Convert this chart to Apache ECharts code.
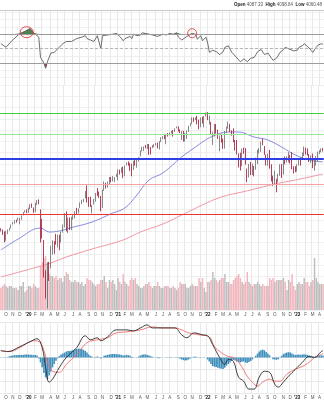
<!DOCTYPE html>
<html><head><meta charset="utf-8">
<script src="https://cdn.jsdelivr.net/npm/echarts@6/dist/echarts.min.js"></script>
<style>html,body{margin:0;padding:0;background:#fff}#chart{width:324px;height:400px}</style>
</head><body><div id="chart"></div><script>
// Weekly S&P 500 bars, Sep 2019 - Apr 2023: [open, close, low, high]
const ohlc = [
[3001,2992,2985,3022],[2994,2962,2943,3007],[2967,2952,2856,2983],[2945,2970,2874,2993],[2966,2986,2952,3008],
[2996,3023,2992,3027],[3032,3067,3021,3067],[3078,3093,3067,3097],[3081,3120,3077,3121],[3118,3110,3091,3127],
[3118,3141,3117,3154],[3144,3146,3070,3150],[3147,3169,3125,3183],[3183,3221,3183,3226],[3226,3240,3220,3248],
[3240,3235,3212,3259],[3218,3265,3214,3282],[3274,3330,3264,3330],[3321,3295,3281,3338],[3244,3226,3214,3285],
[3235,3328,3223,3347],[3318,3380,3316,3385],[3388,3338,3328,3393],[3258,2954,2855,3259],[2974,2972,2901,3137],
[2863,2711,2479,2883],[2509,2305,2280,2553],[2290,2541,2192,2637],[2498,2489,2447,2641],[2578,2790,2574,2818],
[2782,2875,2719,2879],[2846,2837,2727,2870],[2854,2831,2830,2955],[2815,2930,2798,2945],[2915,2864,2767,2945],
[2913,2955,2853,2981],[3005,3044,2970,3068],[3038,3194,3031,3211],[3199,3041,2984,3233],[2994,3098,2965,3155],
[3094,3009,3001,3155],[3018,3130,2999,3165],[3155,3185,3128,3186],[3205,3225,3142,3238],[3224,3216,3200,3280],
[3219,3271,3209,3272],[3289,3351,3280,3352],[3356,3373,3328,3387],[3380,3397,3354,3399],[3419,3508,3406,3509],
[3507,3427,3349,3588],[3371,3341,3293,3425],[3363,3319,3292,3429],[3285,3298,3209,3320],[3333,3348,3323,3398],
[3367,3477,3361,3482],[3500,3484,3441,3550],[3493,3465,3415,3502],[3441,3270,3234,3441],[3296,3510,3280,3529],
[3583,3585,3511,3646],[3600,3558,3543,3628],[3566,3638,3558,3645],[3641,3699,3594,3712],[3694,3663,3633,3712],
[3675,3709,3647,3726],[3693,3703,3636,3711],[3723,3756,3715,3760],[3764,3825,3663,3827],[3803,3768,3750,3824],
[3781,3841,3775,3859],[3856,3714,3694,3870],[3731,3887,3725,3887],[3892,3934,3890,3937],[3939,3907,3884,3951],
[3885,3811,3805,3928],[3843,3842,3723,3915],[3844,3943,3819,3960],[3942,3913,3885,3983],[3917,3975,3853,3978],
[3969,4020,3949,4020],[4034,4129,4034,4129],[4124,4185,4114,4191],[4179,4180,4118,4195],[4185,4181,4165,4219],
[4192,4233,4152,4238],[4228,4174,4057,4237],[4169,4156,4062,4187],[4168,4204,4168,4219],[4216,4230,4183,4234],
[4229,4247,4217,4255],[4248,4166,4164,4262],[4173,4281,4144,4287],[4284,4352,4272,4356],[4356,4370,4320,4372],
[4372,4327,4321,4393],[4296,4412,4234,4415],[4409,4395,4367,4429],[4406,4437,4385,4440],[4437,4468,4422,4468],
[4461,4442,4367,4480],[4450,4509,4450,4513],[4513,4535,4513,4546],[4535,4459,4456,4549],[4474,4433,4427,4492],
[4406,4455,4306,4466],[4442,4357,4279,4466],[4348,4391,4278,4429],[4385,4471,4323,4475],[4463,4545,4447,4559],
[4553,4605,4551,4608],[4610,4698,4595,4718],[4701,4683,4630,4714],[4689,4698,4663,4717],[4712,4595,4585,4744],
[4628,4538,4495,4672],[4548,4712,4532,4713],[4710,4620,4600,4731],[4588,4726,4532,4740],[4733,4766,4733,4808],
[4778,4677,4663,4818],[4655,4663,4582,4749],[4632,4398,4395,4632],[4357,4432,4222,4453],[4431,4501,4368,4595],
[4505,4419,4418,4590],[4412,4349,4327,4490],[4332,4385,4115,4386],[4364,4329,4261,4417],[4328,4204,4157,4329],
[4202,4463,4161,4465],[4462,4543,4424,4546],[4541,4546,4507,4637],[4547,4488,4450,4593],[4474,4392,4381,4475],
[4385,4272,4269,4513],[4255,4132,4129,4308],[4130,4123,4063,4307],[4081,4024,3859,4081],[4013,3901,3810,4091],
[3920,4158,3875,4158],[4151,4109,4074,4177],[4134,3901,3900,4169],[3838,3675,3637,3838],[3715,3912,3705,3913],
[3920,3825,3741,3945],[3819,3899,3743,3918],[3880,3863,3722,3880],[3883,3962,3820,4012],[3967,4130,3910,4140],
[4113,4145,4079,4167],[4155,4280,4107,4280],[4269,4228,4218,4325],[4195,4058,4057,4203],[4034,3924,3887,4062],
[3910,4067,3886,4076],[4084,3873,3838,4140],[3849,3693,3647,3907],[3682,3586,3584,3733],[3610,3640,3605,3806],
[3636,3583,3491,3685],[3638,3752,3634,3762],[3757,3901,3730,3905],[3881,3771,3698,3911],[3780,3993,3749,4001],
[3978,3965,3906,4029],[3956,4026,3933,4034],[4006,4072,3938,4101],[4053,3934,3918,4053],[3940,3852,3828,4101],
[3853,3845,3764,3876],[3843,3840,3784,3878],[3853,3895,3794,3907],[3910,3999,3887,4003],[3999,3973,3885,4015],
[3979,4071,3974,4095],[4071,4136,4037,4195],[4120,4090,4061,4176],[4100,4079,4047,4163],[4072,3970,3943,4072],
[3992,4046,3928,4049],[4055,3862,3847,4079],[3876,3917,3808,3976],[3917,3971,3885,4039],[3982,4109,3951,4110],
[4102,4105,4069,4133],[4110,4138,4099,4164],[4140,4133,4114,4170]
];

// Weekly volume, billions of shares
const volume = [
11,12,13,12,11,12,12,11,11,11,10,12,12,14,9,10,
12,12,11,13,12,11,11,
22,24,26,27,23,18,17,17,16,17,15,16,16,14,17,19,18,15,14,14,15,14,14,13,14,12,13,16,15,15,14,13,12,13,13,15,15,17,14,11,15,14,15,13,10,
16,14,13,18,14,13,12,15,16,15,16,13,12,11,11,12,13,13,14,12,11,12,12,14,12,11,11,12,12,12,11,11,12,11,10,11,14,13,13,13,11,11,12,13,12,12,12,16,14,16,11,9,
14,14,15,19,16,15,14,15,16,16,18,14,14,13,13,15,16,17,18,16,14,13,14,19,14,13,12,13,13,14,13,12,13,12,12,12,16,15,16,14,15,15,15,15,16,14,10,15,14,18,12,10,
13,14,13,13,16,14,14,12,14,15,26,16,14,13,13,13
];

// Moving averages [week index, value]
const ma50 = [[0,2769],[10,2894],[23,3025],[28,2977],[34,2989],[40,3025],[53,3099],[65,3213],[72,3278],[79,3454],[86,3668],[94,3772],[105,4023],[113,4187],[122,4359],[132,4447],[138,4447],[147,4359],[155,4307],[163,4187],[171,4055],[179,3975],[187,3943]];
const ma200 = [[0,2485],[19,2576],[29,2629],[38,2693],[53,2781],[71,2883],[81,2977],[94,3074],[105,3187],[117,3318],[128,3426],[140,3495],[152,3566],[159,3610],[171,3668],[187,3757]];

// Horizontal price levels
const levels = [4800, 4400, 4000, 3600, 3200];
const levelColors = ['#3fcf3f', '#98e698', '#2f3fe8', '#f2a2a2', '#ec3434'];

// RSI(14) [week index, value]
const rsi = [[0,57],[3,52],[6,60],[11,71],[14,74],[17,78],[19,72],[20,71],[22,66],[23,38],[25,30],[26,23],[27,32],[29,44],[31,45],[33,50],[36,57],[38,60],[41,60],[44,64],[47,66],[49,68],[50,64],[52,62],[54,60],[56,68],[58,50],[59,68],[62,69],[65,70],[67,71],[69,67],[71,61],[72,64],[75,67],[76,64],[77,70],[79,68],[81,69],[82,72],[84,71],[86,70],[88,69],[91,67],[92,68],[94,70],[96,69],[98,71],[100,70],[102,72],[103,66],[105,62],[106,61],[108,67],[111,71],[113,70],[114,63],[116,68],[117,61],[119,66],[120,58],[121,45],[123,48],[125,46],[127,42],[129,46],[130,52],[132,54],[134,45],[136,40],[137,38],[139,32],[141,36],[143,32],[145,37],[147,38],[149,46],[151,49],[153,42],[155,44],[157,37],[158,34],[160,37],[162,45],[164,49],[165,52],[167,50],[168,48],[170,47],[172,48],[173,52],[175,54],[176,57],[178,53],[180,48],[181,45],[183,52],[184,55],[186,57],[187,56]];
const rsiCircles = [[15,72.8],[111,71.4]];

// MACD(12,26,9)
const macd = [[0,42],[4,36],[11,66],[17,96],[21,114],[24,60],[26,-60],[28,-150],[30,-132],[34,-60],[38,0],[44,60],[49,132],[52,108],[56,120],[58,102],[62,126],[67,168],[73,168],[77,162],[81,180],[85,198],[88,180],[94,180],[101,180],[105,138],[108,120],[112,150],[117,138],[120,132],[123,78],[127,0],[130,-42],[132,-12],[135,-24],[138,-120],[141,-144],[144,-192],[147,-192],[150,-120],[153,-84],[156,-90],[159,-162],[161,-180],[164,-150],[167,-114],[171,-72],[175,-30],[179,6],[182,0],[186,36],[187,42]];
const signal = [[0,42],[5,36],[11,60],[19,102],[23,90],[27,-24],[30,-84],[34,-90],[38,-42],[44,18],[50,90],[56,108],[62,120],[67,150],[73,156],[81,168],[88,186],[94,180],[101,180],[105,168],[109,150],[115,138],[121,126],[124,66],[128,30],[132,6],[135,0],[139,-42],[143,-114],[146,-150],[149,-174],[152,-150],[156,-132],[159,-144],[162,-144],[166,-102],[171,-72],[175,-54],[179,-30],[182,0],[186,18],[187,24]];
const histogram = [
2,0,-2,-1,2,
8,10,12,14,14,15,15,16,16,18,18,18,17,16,14,15,12,
-6,-30,-60,-95,-120,-132,-110,-85,-60,-40,-20,-5,
10,18,24,30,36,40,40,42,46,50,52,54,54,52,46,40,30,18,10,4,2,4,6,2,-6,-2,
10,14,16,18,20,22,22,20,20,18,16,12,14,16,14,10,4,2,0,2,6,12,16,18,18,16,12,8,4,0,-2,-4,-4,-2,0,0,2,2,2,2,0,2,2,-2,-8,-12,-16,-18,-16,-12,-6,2,4,6,2,-2,2,0,-2,0,
-12,-24,-40,-52,-56,-58,-62,-66,-68,-70,-62,-50,-40,-30,-20,-14,-18,-24,-28,-30,-26,-24,-30,-34,-28,-22,-12,-2,10,24,36,44,48,44,34,24,14,0,-10,-12,-14,-10,2,10,20,26,30,32,30,24,18,16,16,18,16,18,20,18,16,12,10,6,4,6,10,12,12,12
];

const lastBar = {open: '4087.33', high: '4098.84', low: '4060.48'};

// Week start dates used as categories
const weeks = [];
for (let i = 0; i < ohlc.length; i++) {
  const d = new Date(Date.UTC(2019, 8, 16) + i * 7 * 86400000);
  weeks.push(d.toISOString().slice(0, 10));
}
const monthLetters = ['J','F','M','A','M','J','J','A','S','O','N','D'];
const monthOf = s => +s.slice(5, 7) - 1;
const isMonthStart = i => i > 0 && monthOf(weeks[i]) !== monthOf(weeks[i - 1]);
const monthLabel = v => {
  const m = monthOf(v);
  return m === 0 ? '{y|\'' + v.slice(2, 4) + '}' : monthLetters[m];
};

const FONT = 'Liberation Sans';
const gridLine = {show: true, lineStyle: {color: '#e9e9e9', width: 1}};
const faintLine = {show: true, lineStyle: {color: '#f0f0f0', width: 1}};
const hiddenAxis = {axisLabel: {show: false}, axisLine: {show: false}, axisTick: {show: false}};
function catAxis(gridIndex, labels) {
  return {
    type: 'category', gridIndex, data: weeks, boundaryGap: true,
    axisLine: {show: false}, axisTick: {show: false},
    splitLine: Object.assign({interval: (i) => isMonthStart(i)}, gridLine),
    axisLabel: labels ? {
      show: true, interval: (i) => isMonthStart(i), formatter: monthLabel,
      fontSize: 4.5, color: '#555', fontFamily: FONT, margin: 2,
      rich: {y: {fontSize: 4.5, fontWeight: 'bold', color: '#111', fontFamily: FONT}}
    } : {show: false}
  };
}

const upIdx = i => ohlc[i][1] >= ohlc[i][0];

const chart = echarts.init(document.getElementById('chart'), null, {renderer: 'canvas'});
chart.setOption({
  animation: false,
  backgroundColor: '#fff',
  grid: [
    {left: 0, right: 0, top: 10, height: 75},   // RSI
    {left: 0, right: 0, top: 85, height: 225},  // price
    {left: 0, right: 0, top: 250, height: 60},  // volume
    {left: 0, right: 0, top: 322, height: 72}   // MACD
  ],
  xAxis: [catAxis(0, false), catAxis(1, true),
          Object.assign(catAxis(2, false), {splitLine: {show: false}}), catAxis(3, true)],
  yAxis: [
    Object.assign({type: 'value', gridIndex: 0, min: 0, max: 103.4, interval: 10, splitLine: faintLine}, hiddenAxis),
    Object.assign({type: 'log', gridIndex: 1, min: 2177, max: 5370, splitLine: {show: false}}, hiddenAxis),
    Object.assign({type: 'value', gridIndex: 2, min: 0, max: 30, splitLine: {show: false}}, hiddenAxis),
    Object.assign({type: 'value', gridIndex: 3, min: -216, max: 216, interval: 72, splitLine: gridLine}, hiddenAxis),
    // plain ruling for the price panel
    Object.assign({type: 'value', gridIndex: 1, min: 0, max: 20, interval: 1, splitLine: faintLine}, hiddenAxis)
  ],
  graphic: [{
    type: 'text', right: 2, top: 2,
    style: {
      text: '{b|Open} ' + lastBar.open + '  {b|High} ' + lastBar.high + '  {b|Low} ' + lastBar.low,
      fontSize: 4.5, fill: '#555', fontFamily: FONT,
      rich: {b: {fontSize: 4.5, fontWeight: 'bold', fill: '#222', fontFamily: FONT}}
    }
  }],
  series: [
    {
      type: 'bar', name: 'Volume', xAxisIndex: 2, yAxisIndex: 2, z: 1,
      barWidth: '85%',
      data: volume.map((v, i) => ({value: v, itemStyle: {color: upIdx(i) ? '#bdbdbd' : '#f3b4bc'}}))
    },
    {
      type: 'candlestick', name: 'SPX', xAxisIndex: 1, yAxisIndex: 1, z: 3,
      barWidth: '75%',
      data: ohlc,
      itemStyle: {color: '#b3b3b3', color0: '#d3143d', borderColor: '#6a6a6a', borderColor0: '#a80f2e', borderWidth: 0.8},
      markLine: {
        silent: true, symbol: 'none', label: {show: false}, animation: false,
        data: levels.map((v, k) => ({yAxis: v, lineStyle: {color: levelColors[k], width: k === 2 ? 2 : 1, type: 'solid', opacity: 1}}))
      }
    },
    {
      type: 'line', name: 'MA50', xAxisIndex: 1, yAxisIndex: 1, z: 2, smooth: 0.4, showSymbol: false,
      data: ma50, lineStyle: {color: '#7b7fdc', width: 0.9}
    },
    {
      type: 'line', name: 'MA200', xAxisIndex: 1, yAxisIndex: 1, z: 2, smooth: 0.4, showSymbol: false,
      data: ma200, lineStyle: {color: '#ef8c9a', width: 0.9}
    },
    {
      type: 'line', name: 'RSI>70', xAxisIndex: 0, yAxisIndex: 0, showSymbol: false, silent: true,
      data: rsi.map(([i, v]) => [i, Math.max(v, 70)]),
      lineStyle: {width: 0}, areaStyle: {origin: 70, color: '#4f7f4f', opacity: 1}
    },
    {
      type: 'line', name: 'RSI<30', xAxisIndex: 0, yAxisIndex: 0, showSymbol: false, silent: true,
      data: rsi.map(([i, v]) => [i, Math.min(v, 30)]),
      lineStyle: {width: 0}, areaStyle: {origin: 30, color: '#b83a3a', opacity: 1}
    },
    {
      type: 'line', name: 'RSI', xAxisIndex: 0, yAxisIndex: 0, showSymbol: false,
      data: rsi, lineStyle: {color: '#5e5e5e', width: 0.9},
      markLine: {
        silent: true, symbol: 'none', label: {show: false},
        data: [
          {yAxis: 103, lineStyle: {color: '#c8c8c8', width: 1, type: 'solid'}},
          {yAxis: 70, lineStyle: {color: '#9c9c9c', width: 1, type: 'solid'}},
          {yAxis: 50, lineStyle: {color: '#b5b5b5', width: 1, type: [3, 2]}},
          {yAxis: 30, lineStyle: {color: '#9c9c9c', width: 1, type: 'solid'}}
        ]
      },
      markPoint: {
        silent: true, label: {show: false},
        data: rsiCircles.map(([i, v], k) => ({
          coord: [i, v], symbol: 'circle', symbolSize: k === 0 ? [13, 11] : [9, 9],
          itemStyle: {color: 'rgba(0,0,0,0)', borderColor: '#e23b3b', borderWidth: 0.9}
        }))
      }
    },
    {
      type: 'bar', name: 'Histogram', xAxisIndex: 3, yAxisIndex: 3, barWidth: '90%',
      data: histogram, itemStyle: {color: '#3f8fbd'}
    },
    {
      type: 'line', name: 'Signal', xAxisIndex: 3, yAxisIndex: 3, smooth: 0.4, showSymbol: false,
      data: signal, lineStyle: {color: '#f26a6a', width: 0.9}
    },
    {
      type: 'line', name: 'MACD', xAxisIndex: 3, yAxisIndex: 3, smooth: 0.4, showSymbol: false,
      data: macd, lineStyle: {color: '#2a2a2a', width: 0.9}
    }
  ]
});
</script></body></html>
